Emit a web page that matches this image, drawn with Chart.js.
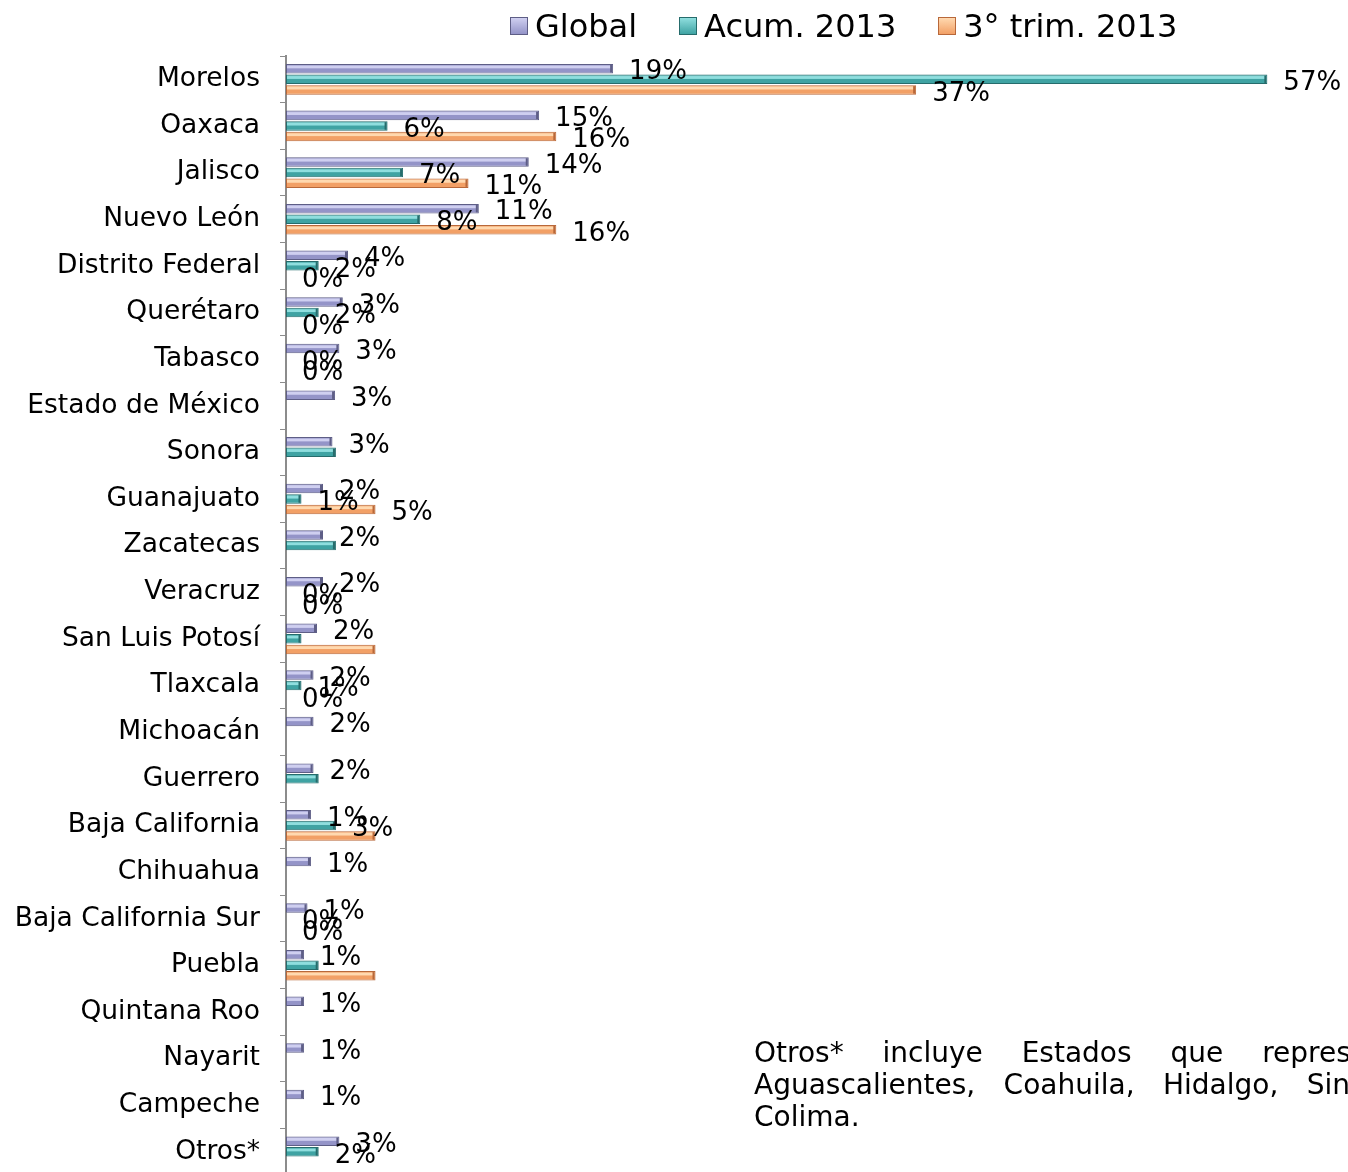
<!DOCTYPE html>
<html>
<head>
<meta charset="utf-8">
<script src="https://cdn.jsdelivr.net/npm/chart.js@4.4.0/dist/chart.umd.min.js"></script>
<style>
  html, body { margin: 0; padding: 0; background: #fff; overflow: hidden; }
  body { width: 1348px; height: 1172px; position: relative; font-family: "DejaVu Sans", Verdana, sans-serif; }
  #wrap { position: absolute; left: 0; top: 0; width: 1348px; height: 1211px; }
  #legend { position: absolute; left: 510px; top: 7px; display: flex; align-items: center; font-size: 32px; color: #000; }
  #legend .item { display: flex; align-items: center; margin-right: 42px; }
  #legend .box { width: 16px; height: 16px; margin-right: 7px; border: 1px solid; }
  #note { position: absolute; left: 754px; top: 1037px; font-size: 28px; line-height: 32px; color: #000; white-space: nowrap; }
  #note .l1 { word-spacing: 30px; }
  #note .l2 { word-spacing: 19.5px; }
</style>
</head>
<body>
<div id="wrap"><canvas id="chart" width="1348" height="1211"></canvas></div>
<div id="legend"></div>
<div id="note">
  <div class="l1">Otros* incluye Estados que representan</div>
  <div class="l2">Aguascalientes, Coahuila, Hidalgo, Sinaloa y</div>
  <div>Colima.</div>
</div>
<script>
const estados = ['Morelos', 'Oaxaca', 'Jalisco', 'Nuevo León', 'Distrito Federal', 'Querétaro',
  'Tabasco', 'Estado de México', 'Sonora', 'Guanajuato', 'Zacatecas', 'Veracruz',
  'San Luis Potosí', 'Tlaxcala', 'Michoacán', 'Guerrero', 'Baja California', 'Chihuahua',
  'Baja California Sur', 'Puebla', 'Quintana Roo', 'Nayarit', 'Campeche', 'Otros*'];

const global = [19.0, 14.7, 14.1, 11.2, 3.6, 3.3, 3.1, 2.85, 2.7, 2.15, 2.15, 2.15,
  1.8, 1.6, 1.6, 1.6, 1.45, 1.45, 1.25, 1.05, 1.05, 1.05, 1.05, 3.1];
const acum2013 = [57.0, 5.9, 6.8, 7.8, 1.9, 1.9, 0, null, 2.9, 0.9, 2.9, 0,
  0.9, 0.9, null, 1.9, 2.9, null, 0, 1.9, null, null, null, 1.9];
const trim3 = [36.6, 15.7, 10.6, 15.7, 0, 0, 0, null, null, 5.2, null, 0,
  5.2, 0, null, null, 5.2, null, 0, 5.2, null, null, null, null];

// labels the original chart does not show
const sinEtiquetaAcum = ['Sonora', 'Zacatecas', 'San Luis Potosí', 'Guerrero', 'Puebla'];
const sinEtiquetaTrim = ['San Luis Potosí', 'Baja California', 'Puebla'];

const series = [
  { label: 'Global', data: global, fill: '#9494c8', light: '#cfcff0', dark: '#5e5e86', hide: [] },
  { label: 'Acum. 2013', data: acum2013, fill: '#3fa3a3', light: '#8fdede', dark: '#266c6c', hide: sinEtiquetaAcum },
  { label: '3° trim. 2013', data: trim3, fill: '#f2a066', light: '#ffd9b0', dark: '#b8683a', hide: sinEtiquetaTrim }
];

// legend
const legend = document.getElementById('legend');
series.forEach(s => {
  const it = document.createElement('div');
  it.className = 'item';
  it.innerHTML = '<span class="box" style="background:linear-gradient(' + s.light + ',' + s.fill + ');border-color:' + s.dark + '"></span><span>' + s.label + '</span>';
  legend.appendChild(it);
});

const bevel = {
  id: 'bevel',
  afterDatasetsDraw(chart) {
    const ctx = chart.ctx;
    chart.data.datasets.forEach((ds, i) => {
      chart.getDatasetMeta(i).data.forEach((bar, j) => {
        if (ds.data[j] == null || ds.data[j] === 0) return;
        const w = bar.x - bar.base;
        const top = bar.y - bar.height / 2;
        ctx.save();
        ctx.fillStyle = series[i].light;
        ctx.fillRect(bar.base + 1, top + 1.5, w - 3, bar.height * 0.3);
        ctx.fillStyle = series[i].dark;
        ctx.fillRect(bar.x - 3, top + 1, 2, bar.height - 2);
        ctx.restore();
      });
    });
  }
};

const etiquetas = {
  id: 'etiquetas',
  afterDatasetsDraw(chart) {
    const ctx = chart.ctx;
    ctx.save();
    ctx.font = '26px "DejaVu Sans"';
    ctx.fillStyle = '#000';
    ctx.textAlign = 'left';
    ctx.textBaseline = 'middle';
    chart.data.datasets.forEach((ds, i) => {
      chart.getDatasetMeta(i).data.forEach((bar, j) => {
        const v = ds.data[j];
        if (v == null || series[i].hide.includes(estados[j])) return;
        ctx.fillText(Math.round(v) + '%', bar.x + 16, bar.y + 4);
      });
    });
    ctx.restore();
  }
};

new Chart(document.getElementById('chart'), {
  type: 'bar',
  data: {
    labels: estados,
    datasets: series.map(s => ({
      label: s.label,
      data: s.data,
      backgroundColor: s.fill,
      borderColor: s.dark,
      borderWidth: 1,
      borderSkipped: false,
      categoryPercentage: 0.68,
      barPercentage: 0.9
    }))
  },
  options: {
    indexAxis: 'y',
    responsive: false,
    maintainAspectRatio: false,
    animation: false,
    layout: { padding: { top: 56, right: 29, bottom: 0, left: 0 } },
    plugins: { legend: { display: false }, tooltip: { enabled: false } },
    scales: {
      x: { display: false, min: 0, max: 60 },
      y: {
        afterFit(scale) { scale.width = 286; },
        border: { display: true, color: '#8c8c8c', width: 2 },
        grid: { drawOnChartArea: false, drawTicks: true, tickLength: 6, color: '#8c8c8c', lineWidth: 1 },
        ticks: { color: '#000', padding: 20, font: { family: 'DejaVu Sans', size: 26.5 } }
      }
    }
  },
  plugins: [bevel, etiquetas]
});
</script>
</body>
</html>
